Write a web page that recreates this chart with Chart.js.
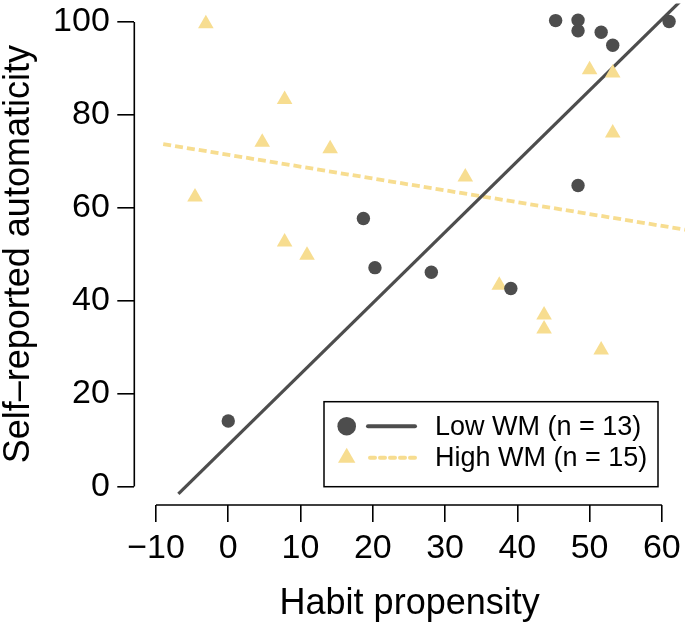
<!DOCTYPE html>
<html>
<head>
<meta charset="utf-8">
<script src="https://cdn.jsdelivr.net/npm/chart.js@4.4.1/dist/chart.umd.min.js"></script>
<style>
body { margin: 0; background: #fff; }
#wrap { width: 685px; height: 628px; position: relative; }
</style>
</head>
<body>
<div id="wrap"><canvas id="habitChart"></canvas></div>
<script>
// Low WM group (circles)
var lowX = [0, 18.7, 20.3, 28.1, 39.1, 48.4, 45.3, 48.4, 48.4, 51.6, 53.2, 61.0];
var lowY = [14.1, 57.7, 47.1, 46.1, 42.6, 64.8, 100.3, 100.4, 98.1, 97.8, 95.0, 100.1];
// High WM group (triangles)
var highX = [-3.1, 7.8, 4.7, 14.1, -4.6, 7.8, 10.9, 50.0, 53.2, 53.2, 32.8, 37.5, 43.7, 43.7, 51.6];
var highY = [99.6, 83.3, 74.1, 72.7, 62.3, 52.6, 49.8, 89.7, 89.0, 76.1, 66.6, 43.3, 36.9, 33.9, 29.4];
// fitted lines (end points)
var lowFitX = [-6.9, 63.5];
var lowFitY = [-1.6, 105.9];
var highFitX = [-9.0, 63.5];
var highFitY = [73.7, 55.2];

var xTicks = [-10, 0, 10, 20, 30, 40, 50, 60];
var yTicks = [0, 20, 40, 60, 80, 100];
var legendLabels = ["Low WM (n = 13)", "High WM (n = 15)"];

var darkCol = "#4d4d4d";
var yellowCol = "#f7dd90";
var fontFam = "'Liberation Sans', Arial, Helvetica, sans-serif";

function toPoints(xs, ys) {
    return xs.map(function (x, i) { return {x: x, y: ys[i]}; });
}
function minusSign(v) {
    return String(v).replace("-", "\u2212");
}

// R style axis lines (first tick to last tick) and the boxed legend
var rStyle = {
    id: "rStyle",
    afterDraw: function (chart) {
        var ctx = chart.ctx, area = chart.chartArea;
        var xs = chart.scales.x, ys = chart.scales.y;
        ctx.save();
        ctx.strokeStyle = "#000";
        ctx.lineWidth = 1.6;
        ctx.beginPath();
        ctx.moveTo(xs.getPixelForValue(xTicks[0]), area.bottom);
        ctx.lineTo(xs.getPixelForValue(xTicks[xTicks.length - 1]), area.bottom);
        ctx.moveTo(area.left, ys.getPixelForValue(yTicks[0]));
        ctx.lineTo(area.left, ys.getPixelForValue(yTicks[yTicks.length - 1]));
        ctx.stroke();

        // legend
        var bx = area.right - 361, by = area.bottom - 103.3, bw = 334, bh = 85;
        ctx.lineWidth = 1.5;
        ctx.strokeRect(bx, by, bw, bh);
        var rows = [by + 24.5, by + 56];
        ctx.font = "27px " + fontFam;
        ctx.textBaseline = "middle";
        ctx.fillStyle = "#000";
        rows.forEach(function (ry, i) {
            ctx.fillText(legendLabels[i], bx + 111, ry + 1);
        });
        // circle + solid line
        ctx.fillStyle = darkCol;
        ctx.beginPath();
        ctx.arc(bx + 22.7, rows[0], 9.3, 0, Math.PI * 2);
        ctx.fill();
        ctx.strokeStyle = darkCol;
        ctx.lineWidth = 4;
        ctx.lineCap = "round";
        ctx.beginPath();
        ctx.moveTo(bx + 44, rows[0]);
        ctx.lineTo(bx + 91, rows[0]);
        ctx.stroke();
        // triangle + dashed line
        ctx.fillStyle = yellowCol;
        var r = 10;
        ctx.beginPath();
        ctx.moveTo(bx + 22.7, rows[1] - r);
        ctx.lineTo(bx + 22.7 + r * 0.866, rows[1] + r / 2);
        ctx.lineTo(bx + 22.7 - r * 0.866, rows[1] + r / 2);
        ctx.closePath();
        ctx.fill();
        ctx.strokeStyle = yellowCol;
        ctx.setLineDash([5, 5]);
        ctx.beginPath();
        ctx.moveTo(bx + 46, rows[1]);
        ctx.lineTo(bx + 92, rows[1]);
        ctx.stroke();
        ctx.restore();
    }
};

var ctx = document.getElementById("habitChart").getContext("2d");
var habitChart = new Chart(ctx, {
    type: "scatter",
    data: {
        datasets: [{
            label: legendLabels[0],
            data: toPoints(lowX, lowY),
            pointStyle: "circle",
            pointRadius: 6.7,
            pointBackgroundColor: darkCol,
            pointBorderWidth: 0
        }, {
            label: legendLabels[1],
            data: toPoints(highX, highY),
            pointStyle: "triangle",
            pointRadius: 9,
            pointBackgroundColor: yellowCol,
            pointBorderWidth: 0
        }, {
            label: "low fit",
            data: toPoints(lowFitX, lowFitY),
            showLine: true,
            pointRadius: 0,
            borderColor: darkCol,
            borderWidth: 3.2
        }, {
            label: "high fit",
            data: toPoints(highFitX, highFitY),
            showLine: true,
            pointRadius: 0,
            borderColor: yellowCol,
            borderWidth: 3.8,
            borderDash: [8, 4]
        }]
    },
    options: {
        responsive: true,
        maintainAspectRatio: false,
        animation: false,
        layout: {autoPadding: false, padding: {top: 3.4, right: 0, left: 0, bottom: 0}},
        plugins: {
            legend: {display: false},
            tooltip: {enabled: false}
        },
        scales: {
            x: {
                type: "linear",
                min: -13,
                max: 63.2,
                afterBuildTicks: function (scale) {
                    scale.ticks = xTicks.map(function (v) { return {value: v}; });
                },
                afterFit: function (scale) {
                    scale.height = 123;
                    scale.paddingLeft = 0;
                    scale.paddingRight = 0;
                },
                border: {display: false},
                grid: {drawOnChartArea: false, drawTicks: true, tickLength: 17, color: "#000", lineWidth: 1.6},
                ticks: {
                    color: "#000",
                    padding: 6.5,
                    maxRotation: 0,
                    font: {family: fontFam, size: 34},
                    callback: minusSign
                },
                title: {
                    display: true,
                    text: "Habit propensity",
                    color: "#000",
                    font: {family: fontFam, size: 36, lineHeight: 1},
                    padding: {top: 0, bottom: 6}
                }
            },
            y: {
                type: "linear",
                min: -4,
                max: 104,
                afterBuildTicks: function (scale) {
                    scale.ticks = yTicks.map(function (v) { return {value: v}; });
                },
                afterFit: function (scale) {
                    scale.width = 134.3;
                    scale.paddingTop = 0;
                    scale.paddingBottom = 0;
                },
                border: {display: false},
                grid: {drawOnChartArea: false, drawTicks: true, tickLength: 17, color: "#000", lineWidth: 1.6},
                ticks: {
                    color: "#000",
                    padding: 7.5,
                    font: {family: fontFam, size: 34},
                    callback: minusSign
                },
                title: {
                    display: true,
                    text: "Self\u2013reported automaticity",
                    color: "#000",
                    font: {family: fontFam, size: 36, lineHeight: 1},
                    padding: {top: 1.5, bottom: 0}
                }
            }
        }
    },
    plugins: [rStyle]
});
</script>
</body>
</html>
